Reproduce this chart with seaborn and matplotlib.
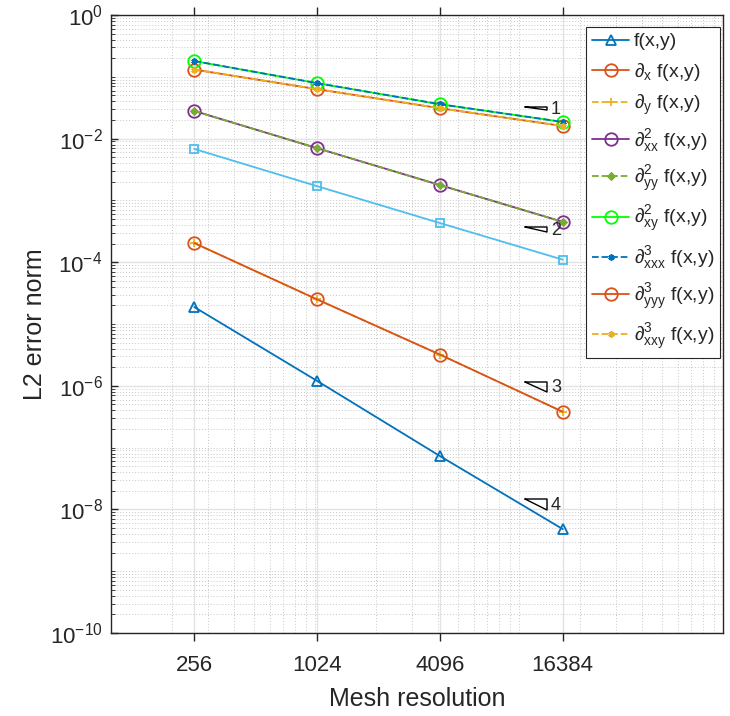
import numpy as np
import pandas as pd
import matplotlib
matplotlib.use("Agg")
import matplotlib.pyplot as plt
import matplotlib.ticker as mticker
import seaborn as sns

# ---------------- data ----------------
mesh = [256, 1024, 4096, 16384]
xtick_labels = ["256", "1024", "4096", "16384"]

err_f     = [1.88e-5, 1.2e-6, 7.3e-8, 4.8e-9]
err_dx    = [0.131, 0.063, 0.031, 0.016]
err_dy    = [2.04e-4, 2.5e-5, 3.2e-6, 3.8e-7]
err_dxx   = [0.028, 7.0e-3, 1.77e-3, 4.5e-4]
err_dyy   = [0.028, 7.0e-3, 1.77e-3, 4.5e-4]
err_dxy   = [0.18, 0.079, 0.036, 0.0186]
err_dxxx  = [0.18, 0.079, 0.036, 0.0186]
err_dyyy  = [2.04e-4, 2.5e-5, 3.2e-6, 3.8e-7]
err_dxxy  = [0.131, 0.063, 0.031, 0.016]
err_extra = [6.8e-3, 1.7e-3, 4.3e-4, 1.1e-4]

labels = [r"f(x,y)",
          r"$\partial_{x}$ f(x,y)",
          r"$\partial_{y}$ f(x,y)",
          r"$\partial^{2}_{xx}$ f(x,y)",
          r"$\partial^{2}_{yy}$ f(x,y)",
          r"$\partial^{2}_{xy}$ f(x,y)",
          r"$\partial^{3}_{xxx}$ f(x,y)",
          r"$\partial^{3}_{yyy}$ f(x,y)",
          r"$\partial^{3}_{xxy}$ f(x,y)",
          "_nolegend_"]
series = [err_f, err_dx, err_dy, err_dxx, err_dyy, err_dxy, err_dxxx, err_dyyy, err_dxxy, err_extra]

slope_labels = ["1", "2", "3", "4"]

# ---------------- style ----------------
sns.set_theme(style="white")
plt.rcParams["font.family"] = ["Liberation Sans", "DejaVu Sans"]
plt.rcParams["mathtext.fontset"] = "custom"
plt.rcParams["mathtext.rm"] = "Liberation Sans"
plt.rcParams["mathtext.it"] = "Liberation Sans"
plt.rcParams["mathtext.bf"] = "Liberation Sans:bold"

colors  = ["#0072BD", "#D95319", "#EDB120", "#7E2F8E", "#77AC30",
           "#00FF00", "#0072BD", "#D95319", "#EDB120", "#4DBEEE"]
markers = ["^", "o", "+", "o", "D", "o", (6, 2, 0), "o", (6, 2, 0), "s"]
msizes  = [7, 9, 6, 9, 3.5, 9, 4.5, 9, 4.5, 5.5]
lstyles = ["-", "-", "--", "-", "--", "-", "--", "-", "--", "-"]
filled  = [False, False, False, False, True, False, False, False, False, False]

fig = plt.figure(figsize=(7.30, 7.16), dpi=100)
ax = fig.add_axes([111 / 730, (716 - 633) / 716, (723 - 111) / 730, (633 - 15) / 716])

for vals, lab, c, m, ms, ls, fl in zip(series, labels, colors, markers, msizes, lstyles, filled):
    df = pd.DataFrame({"mesh": mesh, "err": vals})
    sns.lineplot(data=df, x="mesh", y="err", ax=ax, color=c, marker=m, markersize=ms,
                 linestyle=ls, linewidth=1.3, label=lab,
                 markerfacecolor=(c if fl else "none"), markeredgecolor=c,
                 markeredgewidth=1.3, legend=False)

ax.set_xscale("log")
ax.set_yscale("log")
ax.set_xlim(100, 1e5)
ax.set_ylim(1e-10, 1e0)

ax.xaxis.set_major_locator(mticker.FixedLocator(mesh))
ax.xaxis.set_major_formatter(mticker.FixedFormatter(xtick_labels))
ax.xaxis.set_minor_locator(mticker.LogLocator(base=10, subs=np.arange(1, 10), numticks=50))
ax.xaxis.set_minor_formatter(mticker.NullFormatter())

ax.yaxis.set_major_locator(mticker.FixedLocator([1e-10, 1e-8, 1e-6, 1e-4, 1e-2, 1e0]))
ax.yaxis.set_major_formatter(mticker.LogFormatterMathtext())
ax.yaxis.set_minor_locator(mticker.LogLocator(base=10, subs=np.arange(1, 10), numticks=50))
ax.yaxis.set_minor_formatter(mticker.NullFormatter())

ax.grid(True, which="major", color="#e3e3e3", linestyle="-", linewidth=1.0)
ax.grid(True, which="minor", color="#c8c8c8", linestyle=(0, (1, 2)), linewidth=0.7)
ax.set_axisbelow(True)

for s in ax.spines.values():
    s.set_color("#262626")
    s.set_linewidth(1.0)

ax.tick_params(axis="x", which="major", direction="out", length=6, width=1, colors="#262626",
               labelsize=16, pad=10, top=True, bottom=True, labelcolor="#262626")
ax.tick_params(axis="x", which="minor", length=0, top=False, bottom=False)
ax.tick_params(axis="y", which="major", direction="in", length=5, width=1, colors="#262626",
               labelsize=16, left=True, right=False, labelcolor="#262626", pad=6)
ax.tick_params(axis="y", which="minor", direction="in", length=3, width=0.6, left=True, right=False,
               colors="#262626")

ax.set_xlabel("Mesh resolution", fontsize=18, color="#262626", labelpad=8)
ax.set_ylabel("L2 error norm", fontsize=18, color="#262626", labelpad=2)

# slope triangles (axes-fraction placement)
def fx(px):
    return (px - 111) / 612

def fy(py):
    return (633 - py) / 618

tri_rows = [(107, 110), (227, 232), (382, 392), (499, 510)]
for (top, bot), lab in zip(tri_rows, slope_labels):
    xs = [fx(525), fx(547), fx(547), fx(525)]
    ys = [fy(top), fy(top), fy(bot), fy(top)]
    ax.plot(xs, ys, color="black", linewidth=1.0, transform=ax.transAxes, zorder=5)
    ax.text(fx(551), fy((top + bot) / 2 + 1), lab, transform=ax.transAxes, fontsize=13,
            ha="left", va="center", color="#262626", zorder=5)

leg = ax.legend(loc="upper right", bbox_to_anchor=(fx(720), fy(27)), fontsize=14,
                frameon=True, fancybox=False, edgecolor="#262626", framealpha=1,
                handlelength=1.9, handletextpad=0.25, labelspacing=0.52,
                borderpad=0.3, borderaxespad=0)
leg.get_frame().set_linewidth(0.8)

fig.savefig("out.png", dpi=100)
